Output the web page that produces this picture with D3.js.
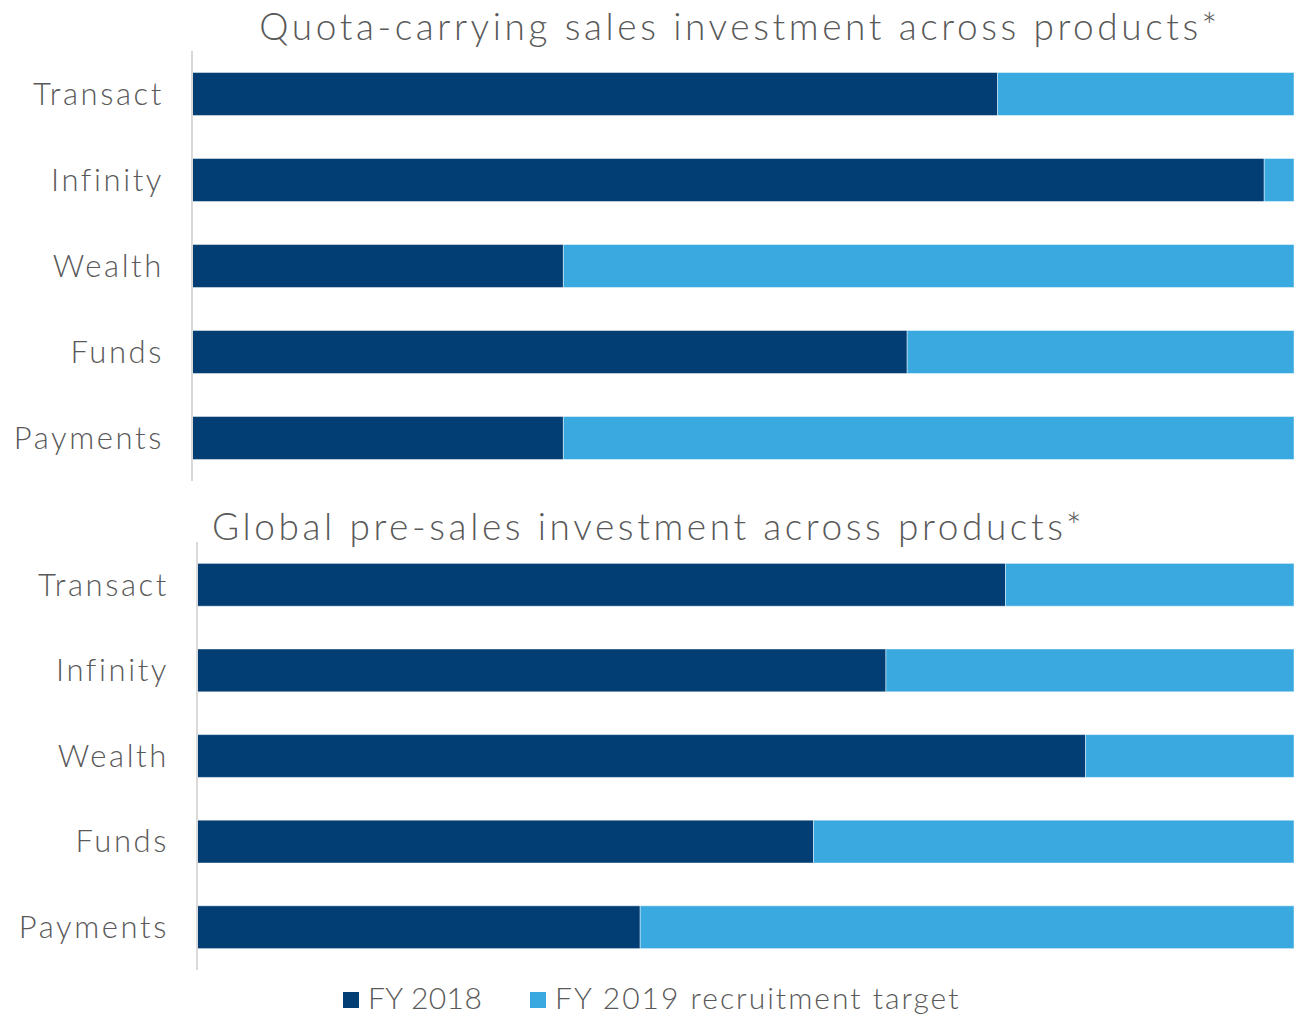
<!DOCTYPE html>
<html>
<head>
<meta charset="utf-8">
<script src="https://cdn.jsdelivr.net/npm/d3@7"></script>
<style>
  html, body { margin: 0; padding: 0; background: #fff; }
  svg { display: block; }
  text { font-family: "Lato", "Open Sans", sans-serif; fill: #595959; }
</style>
</head>
<body>
<svg id="chart" width="1294" height="1016"></svg>
<script>
// Product lines, top to bottom
const categories = ["Transact", "Infinity", "Wealth", "Funds", "Payments"];
const seriesNames = ["FY 2018", "FY 2019 recruitment target"];

// Share of investment (%) per product: FY 2018 vs FY 2019 target
const quotaFY2018 = [73.1, 97.3, 33.7, 64.9, 33.7];
const quotaFY2019 = [26.9, 2.7, 66.3, 35.1, 66.3];
const presalesFY2018 = [73.7, 62.8, 81.0, 56.2, 40.4];
const presalesFY2019 = [26.3, 37.2, 19.0, 43.8, 59.6];

const titles = [
  "Quota-carrying sales investment across products*",
  "Global pre-sales investment across products*"
];

const colors = ["#023d73", "#39a9e0"];

const svg = d3.select("#chart");

function drawPanel(opts) {
  const { title, a, b, x0, x1, y0, y1, titleX, titleY, titleAnchor } = opts;
  const rows = categories.map((c, i) => ({ cat: c, v0: a[i], v1: b[i] }));
  const stack = d3.stack().keys(["v0", "v1"])(rows);

  const x = d3.scaleLinear().domain([0, 100]).range([x0, x1]);
  const y = d3.scaleBand().domain(categories).range([y0, y1]).paddingInner(0.5).paddingOuter(0.25);

  const g = svg.append("g");

  g.append("text")
    .attr("x", titleX).attr("y", titleY)
    .attr("text-anchor", titleAnchor)
    .style("font-size", "37px")
    .style("font-weight", 300)
    .style("letter-spacing", "3.6px")
    .text(title);

  stack.forEach((layer, k) => {
    g.append("g").selectAll("rect").data(layer).join("rect")
      .attr("x", d => x(d[0]))
      .attr("width", d => x(d[1]) - x(d[0]))
      .attr("y", d => y(d.data.cat))
      .attr("height", y.bandwidth())
      .attr("fill", colors[k])
      .attr("stroke", "#ffffff")
      .attr("stroke-opacity", 0.45)
      .attr("stroke-width", 1);
  });

  // category axis
  const axis = g.append("g")
    .attr("transform", `translate(${x0},0)`)
    .call(d3.axisLeft(y).tickSize(0).tickPadding(28));
  axis.select(".domain").attr("stroke", "#d9d9d9").attr("stroke-width", 2)
    .attr("d", `M0,${y0}V${y1}`);
  axis.selectAll("text")
    .style("font-size", "31px")
    .style("font-weight", 300)
    .style("letter-spacing", "2.6px")
    .style("font-family", "Lato, 'Open Sans', sans-serif")
    .attr("fill", "#595959")
    .attr("dy", "0.35em");
}

drawPanel({
  title: titles[0], a: quotaFY2018, b: quotaFY2019,
  x0: 192, x1: 1294, y0: 51, y1: 481,
  titleX: 740, titleY: 40, titleAnchor: "middle"
});

drawPanel({
  title: titles[1], a: presalesFY2018, b: presalesFY2019,
  x0: 197, x1: 1294, y0: 542, y1: 970,
  titleX: 212, titleY: 540, titleAnchor: "start"
});

// legend
const legend = svg.append("g").attr("transform", "translate(343,992)");
const legendOffsets = [0, 187];
seriesNames.forEach((name, i) => {
  const item = legend.append("g").attr("transform", `translate(${legendOffsets[i]},0)`);
  item.append("rect").attr("width", 16).attr("height", 16).attr("fill", colors[i]);
  item.append("text").attr("x", 25).attr("y", 17)
    .style("font-size", "30px")
    .style("font-weight", 300)
    .style("letter-spacing", i === 0 ? "0.4px" : "2px")
    .text(name);
});
</script>
</body>
</html>
